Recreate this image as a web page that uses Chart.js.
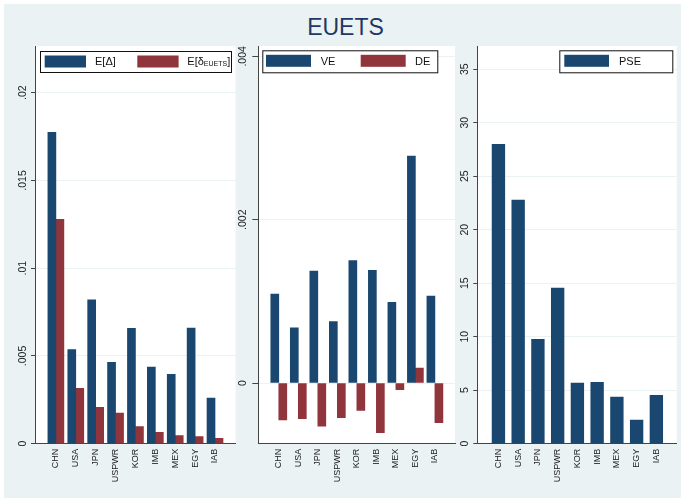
<!DOCTYPE html>
<html>
<head>
<meta charset="utf-8">
<script src="https://cdn.jsdelivr.net/npm/chart.js@4.4.1/dist/chart.umd.min.js"></script>
<style>
  html, body { margin: 0; padding: 0; background: #fff; }
  #wrap { position: relative; width: 683px; height: 498px; overflow: hidden; background: #fff; }
  #bg { position: absolute; left: 4px; top: 4px; width: 677px; height: 494px; background: #eaf2f3; }
  #title { position: absolute; left: 8px; top: 16px; width: 675px; text-align: center;
           font: 23px "Liberation Sans", Arial, sans-serif; line-height: 23px; color: #1f3864; }
  canvas { position: absolute; top: 0; }
</style>
</head>
<body>
<div id="wrap">
  <div id="bg"></div>
  <div id="title">EUETS</div>
  <canvas id="c1" width="240" height="498" style="left:0px"></canvas>
  <canvas id="c2" width="224" height="498" style="left:236px"></canvas>
  <canvas id="c3" width="225" height="498" style="left:458px"></canvas>
</div>
<script>
// data
const categories = ["CHN", "USA", "JPN", "USPWR", "KOR", "IMB", "MEX", "EGY", "IAB"];

const eDelta      = [0.01774, 0.00536, 0.00820, 0.00464, 0.00658, 0.00437, 0.00395, 0.00659, 0.00260];
const eDeltaEuets = [0.01279, 0.00316, 0.00207, 0.00175, 0.00097, 0.00065, 0.00046, 0.00040, 0.00031];

const ve = [0.00109, 0.000677, 0.00137, 0.000751, 0.00150, 0.00138, 0.000988, 0.00278, 0.001066];
const de = [-0.000453, -0.000437, -0.000527, -0.000425, -0.000335, -0.000608, -0.000082, 0.000184, -0.000486];

const pse = [27.98, 22.78, 9.76, 14.55, 5.67, 5.74, 4.36, 2.21, 4.52];

const ticks1 = [0, 0.005, 0.01, 0.015, 0.02];
const tickLabels1 = ["0", ".005", ".01", ".015", ".02"];
const ticks2 = [0, 0.002, 0.004];
const tickLabels2 = ["0", ".002", ".004"];
const ticks3 = [0, 5, 10, 15, 20, 25, 30, 35];
const tickLabels3 = ["0", "5", "10", "15", "20", "25", "30", "35"];

// ----------------------
const FONT = '"Liberation Sans", Arial, sans-serif';
const NAVY = "#1a476f";
const MAROON = "#90353b";
const AXIS = "#444";
const GRID = "#eaf2f3";

// label like "E[δ_{EUETS}]" -> parts with subscript
function labelParts(s){
  const parts = [];
  const re = /_\{([^}]*)\}/g;
  let last = 0, m;
  while ((m = re.exec(s))){
    if (m.index > last) parts.push({ t: s.slice(last, m.index), sub: false });
    parts.push({ t: m[1], sub: true });
    last = re.lastIndex;
  }
  if (last < s.length) parts.push({ t: s.slice(last), sub: false });
  return parts;
}

function panelPlugin(p){
  return {
    id: "panel",
    beforeDraw(chart){
      const { ctx, chartArea: a } = chart;
      ctx.save();
      ctx.fillStyle = "#fff";
      ctx.fillRect(a.left, a.top, a.right - a.left, a.bottom - a.top);
      ctx.restore();
    },
    afterDraw(chart){
      const { ctx, chartArea: a } = chart;
      const ys = chart.scales.y;

      // vertical y tick labels (Stata style)
      ctx.save();
      ctx.fillStyle = "#222";
      ctx.font = `10.5px ${FONT}`;
      ctx.textAlign = "center";
      ctx.textBaseline = "middle";
      ys.ticks.forEach((t, i) => {
        const py = ys.getPixelForValue(t.value);
        ctx.save();
        ctx.translate(a.left - p.labelOffset, py);
        ctx.rotate(-Math.PI / 2);
        ctx.fillText(p.tickLabels[i], 0, 0);
        ctx.restore();
      });
      ctx.restore();

      // legend box
      const L = p.legend;
      const bx = a.left + L.dx, by = a.top + L.dy;
      ctx.save();
      ctx.fillStyle = "#fff";
      ctx.fillRect(bx, by, L.w, L.h);
      ctx.strokeStyle = "#111";
      ctx.lineWidth = 1;
      ctx.strokeRect(bx + 0.5, by + 0.5, L.w, L.h);
      const cy = by + L.h / 2 + 0.5;
      chart.data.datasets.forEach((ds, i) => {
        ctx.fillStyle = ds.backgroundColor;
        ctx.fillRect(bx + L.swatchX[i], by + 4.5, L.swatchW, 12);
        let tx = bx + L.textX[i];
        ctx.fillStyle = "#111";
        ctx.textBaseline = "middle";
        ctx.textAlign = "left";
        labelParts(ds.label).forEach(part => {
          ctx.font = part.sub ? `7px ${FONT}` : `11px ${FONT}`;
          ctx.fillText(part.t, tx, part.sub ? cy + 2.5 : cy);
          tx += ctx.measureText(part.t).width;
        });
      });
      ctx.restore();
    }
  };
}

function makePanel(id, p){
  const datasets = p.series.map(s => ({
    label: s.label,
    data: s.values.map((v, i) => ({ x: i, y: v })),
    backgroundColor: s.color,
    borderWidth: 0,
    barThickness: p.barThickness
  }));

  return new Chart(document.getElementById(id), {
    type: "bar",
    data: { datasets },
    options: {
      responsive: false,
      animation: false,
      devicePixelRatio: 1,
      layout: { padding: p.padding },
      plugins: { legend: { display: false }, tooltip: { enabled: false }, title: { display: false } },
      scales: {
        x: {
          type: "linear",
          offset: false,
          min: -1.05,
          max: 9.03,
          z: 1,
          afterBuildTicks: s => { s.ticks = categories.map((c, i) => ({ value: i })); },
          afterFit: s => { s.height = 50; },
          ticks: {
            autoSkip: false,
            minRotation: 90,
            maxRotation: 90,
            padding: 5,
            color: "#222",
            font: { family: FONT, size: 9 },
            callback: v => categories[v]
          },
          grid: { display: false, drawTicks: false, offset: false },
          border: { display: true, color: AXIS, width: 1 }
        },
        y: {
          type: "linear",
          min: p.yMin,
          max: p.yMax,
          afterBuildTicks: s => { s.ticks = p.ticks.map(v => ({ value: v })); },
          afterFit: s => { s.width = p.yWidth; },
          ticks: { display: false },
          grid: { color: GRID, tickColor: AXIS, tickLength: p.tickLength, drawTicks: true },
          border: { display: true, color: AXIS, width: 1 }
        }
      }
    },
    plugins: [panelPlugin(p)]
  });
}

makePanel("c1", {
  series: [
    { label: "E[Δ]", values: eDelta, color: NAVY },
    { label: "E[δ_{EUETS}]", values: eDeltaEuets, color: MAROON }
  ],
  barThickness: 8,
  yMin: 0, yMax: 0.02266,
  ticks: ticks1, tickLabels: tickLabels1,
  yWidth: 35, tickLength: 4, labelOffset: 12.2,
  padding: { left: 0, right: 4.5, top: 46, bottom: 4.3 },
  legend: { dx: 5, dy: 5, w: 191, h: 21, swatchW: 41.3, swatchX: [4.7, 97.3], textX: [55, 147.3] }
});

makePanel("c2", {
  series: [
    { label: "VE", values: ve, color: NAVY },
    { label: "DE", values: de, color: MAROON }
  ],
  barThickness: 8,
  yMin: -0.000743, yMax: 0.004127,
  ticks: ticks2, tickLabels: tickLabels2,
  yWidth: 22.3, tickLength: 6, labelOffset: 15,
  padding: { left: 0, right: 5, top: 46, bottom: 4.3 },
  legend: { dx: 4, dy: 4.3, w: 175, h: 22, swatchW: 45, swatchX: [3.7, 98.4], textX: [58.4, 152.7] }
});

makePanel("c3", {
  series: [
    { label: "PSE", values: pse, color: NAVY }
  ],
  barThickness: 12.7,
  yMin: 0, yMax: 37.17,
  ticks: ticks3, tickLabels: tickLabels3,
  yWidth: 19.7, tickLength: 4.4, labelOffset: 12.7,
  padding: { left: 0, right: 6.3, top: 46, bottom: 4.3 },
  legend: { dx: 81.6, dy: 4.3, w: 113, h: 22, swatchW: 44.7, swatchX: [5], textX: [59.7] }
});
</script>
</body>
</html>
